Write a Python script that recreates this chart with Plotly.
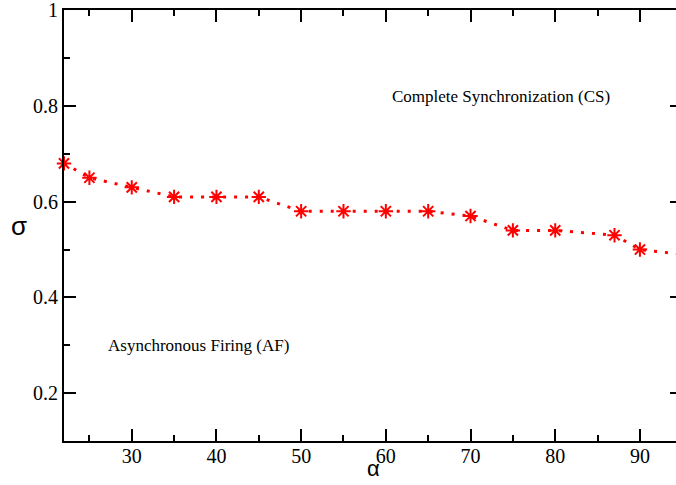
import plotly.graph_objects as go

alpha = [22, 25, 30, 35, 40, 45, 50, 55, 60, 65, 70, 75, 80, 87, 90, 95]
sigma = [0.68, 0.65, 0.63, 0.61, 0.61, 0.61, 0.58, 0.58, 0.58, 0.58, 0.57, 0.54, 0.54, 0.53, 0.50, 0.49]

region_labels = ["Complete Synchronization (CS)", "Asynchronous Firing (AF)"]
region_x = [73.6, 37.9]
region_y = [0.82, 0.30]

x_range = [22, 94.26]
y_range = [0.1, 1.0005]

fig = go.Figure()
fig.add_trace(go.Scatter(
    x=alpha, y=sigma, mode="lines+markers",
    line=dict(color="#ff0000", width=3, dash="3px,8px"),
    marker=dict(symbol="asterisk-open", size=12, color="#ff0000",
                line=dict(color="#ff0000", width=2)),
    cliponaxis=False, showlegend=False, hoverinfo="skip",
))
fig.add_trace(go.Scatter(x=[None], y=[None], yaxis="y2", showlegend=False, hoverinfo="skip"))

for t, x, y in zip(region_labels, region_x, region_y):
    fig.add_annotation(x=x, y=y, text=t, showarrow=False,
                       font=dict(family="Liberation Serif", size=17, color="black"))

# axis titles
fig.add_annotation(xref="paper", yref="paper", x=0.505, y=0, yanchor="middle", yshift=-27,
                   text="α", showarrow=False,
                   font=dict(family="Liberation Sans", size=22, color="black"))
fig.add_annotation(xref="paper", yref="y", x=0, y=0.55, xanchor="center", xshift=-45,
                   text="σ", showarrow=False,
                   font=dict(family="Liberation Sans", size=26, color="black"))

font_ticks = dict(family="Liberation Serif", size=20, color="black")
fig.update_layout(
    width=676, height=485,
    margin=dict(l=64, r=0, t=10, b=44, autoexpand=False),
    font=dict(family="Liberation Serif", size=20, color="black"),
    plot_bgcolor="white", paper_bgcolor="white",
    xaxis=dict(
        range=x_range, tick0=0, dtick=10, ticks="inside", ticklen=12, tickwidth=1.5,
        tickcolor="black", showline=True, linewidth=2, linecolor="black",
        mirror="ticks", showgrid=False, zeroline=False, tickfont=font_ticks, automargin=False,
        ticklabelstandoff=-4,
        minor=dict(dtick=5, tick0=0, ticks="inside", ticklen=6, tickwidth=1.5, tickcolor="black", showgrid=False),
    ),
    yaxis=dict(
        range=y_range, tick0=0, dtick=0.2, ticks="inside", ticklen=12, tickwidth=1.5,
        tickcolor="black", showline=True, linewidth=2, linecolor="black",
        showgrid=False, zeroline=False, tickfont=font_ticks, automargin=False,
        ticklabeloverflow="allow",
        minor=dict(dtick=0.1, tick0=0, ticks="inside", ticklen=6, tickwidth=1.5, tickcolor="black", showgrid=False),
    ),
    yaxis2=dict(
        range=y_range, overlaying="y", side="right", tick0=0, dtick=0.2,
        ticks="inside", ticklen=6, tickwidth=1.5, tickcolor="black", automargin=False,
        showticklabels=False, showline=False, showgrid=False, zeroline=False,
    ),
)

fig.write_html("out.html", config={"displayModeBar": False},
               post_script="document.body.style.margin='0';document.body.style.overflow='hidden';")
